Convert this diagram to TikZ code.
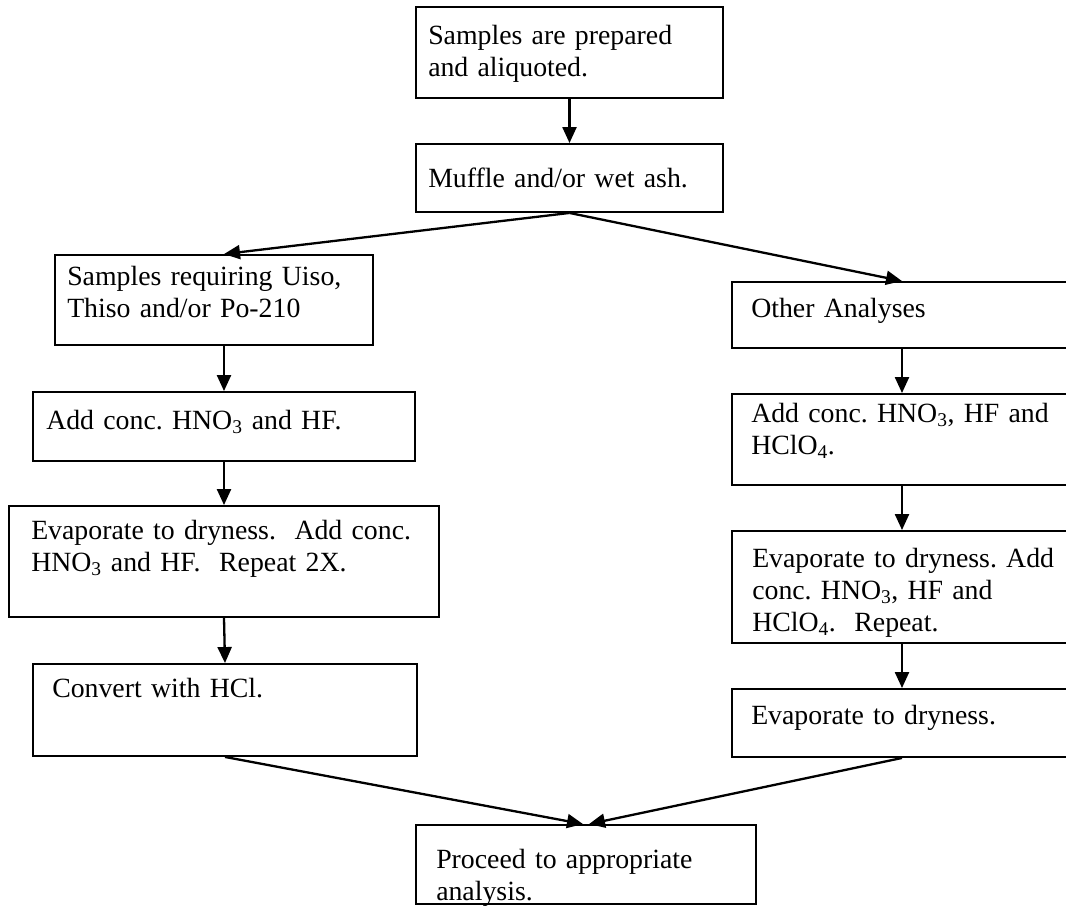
\documentclass[tikz,border=0pt]{standalone}
\usepackage{fontspec}
\setmainfont{Liberation Serif}
\usetikzlibrary{arrows.meta}

\begin{document}
\frenchspacing
\begin{tikzpicture}[x=1pt, y=-1pt,
  stepbox/.style={draw, line width=1.9pt, inner sep=0pt},
  txt/.style={anchor=base west, inner sep=0pt, text width=420pt, align=left,
    font=\fontsize{27.8}{32}\selectfont},
  arr/.style={line width=2.3pt, -{Triangle[length=16pt, width=14pt]}}]
  \useasboundingbox (0,0) rectangle (1066,916);
  \node[stepbox, minimum width=307pt, minimum height=91pt,
    label={[txt, xshift=13pt, yshift=-38pt]north west:{Samples are prepared\\and aliquoted.}}] (prep) at (569.5,52.5) {};
  \node[stepbox, minimum width=307pt, minimum height=68pt,
    label={[txt, xshift=13pt, yshift=-44pt]north west:{Muffle and/or wet ash.}}] (ash) at (569.5,178) {};
  \node[stepbox, minimum width=318pt, minimum height=90pt,
    label={[txt, xshift=13pt, yshift=-31pt]north west:{Samples requiring Uiso,\\Thiso and/or Po-210}}] (iso) at (214,300) {};
  \node[stepbox, minimum width=382pt, minimum height=69pt,
    label={[txt, xshift=14pt, yshift=-38pt]north west:{Add conc. HNO\textsubscript{3} and HF.}}] (addL) at (224,426.5) {};
  \node[stepbox, minimum width=430pt, minimum height=111pt,
    label={[txt, xshift=23pt, yshift=-34pt]north west:{Evaporate to dryness.~ Add conc.\\HNO\textsubscript{3} and HF.~ Repeat 2X.}}] (evapL) at (224,561.5) {};
  \node[stepbox, minimum width=384pt, minimum height=92pt,
    label={[txt, xshift=20pt, yshift=-34pt]north west:{Convert with HCl.}}] (hcl) at (225,710) {};
  \node[stepbox, minimum width=340pt, minimum height=66pt,
    label={[txt, xshift=20pt, yshift=-36pt]north west:{Other Analyses}}] (other) at (902,315) {};
  \node[stepbox, minimum width=340pt, minimum height=91pt,
    label={[txt, xshift=20pt, yshift=-29pt]north west:{Add conc. HNO\textsubscript{3}, HF and\\HClO\textsubscript{4}.}}] (addR) at (902,439.5) {};
  \node[stepbox, minimum width=340pt, minimum height=112pt,
    label={[txt, xshift=21pt, yshift=-37pt]north west:{Evaporate to dryness. Add\\conc. HNO\textsubscript{3}, HF and\\HClO\textsubscript{4}.~ Repeat.}}] (evapR) at (902,587) {};
  \node[stepbox, minimum width=340pt, minimum height=68pt,
    label={[txt, xshift=20pt, yshift=-36pt]north west:{Evaporate to dryness.}}] (dry) at (902,723) {};
  \node[stepbox, minimum width=340pt, minimum height=79pt,
    label={[txt, xshift=21pt, yshift=-44pt]north west:{Proceed to appropriate\\analysis.}}] (final) at (586,864.5) {};
  \draw[arr] (prep) -- (ash);
  \draw[arr] (ash.south) -- (addL.north |- iso.north);
  \draw[arr] (ash.south) -- (other.north);
  \draw[arr] (addL.north |- iso.south) -- (addL.north);
  \draw[arr] (addL) -- (evapL);
  \draw[arr] (evapL.south) -- (hcl.north);
  \draw[arr] (other) -- (addR);
  \draw[arr] (addR) -- (evapR);
  \draw[arr] (evapR) -- (dry);
  \draw[arr] (hcl.south) -- ([xshift=-3pt]final.north);
  \draw[arr] (dry.south) -- ([xshift=3pt]final.north);
\end{tikzpicture}
\end{document}
